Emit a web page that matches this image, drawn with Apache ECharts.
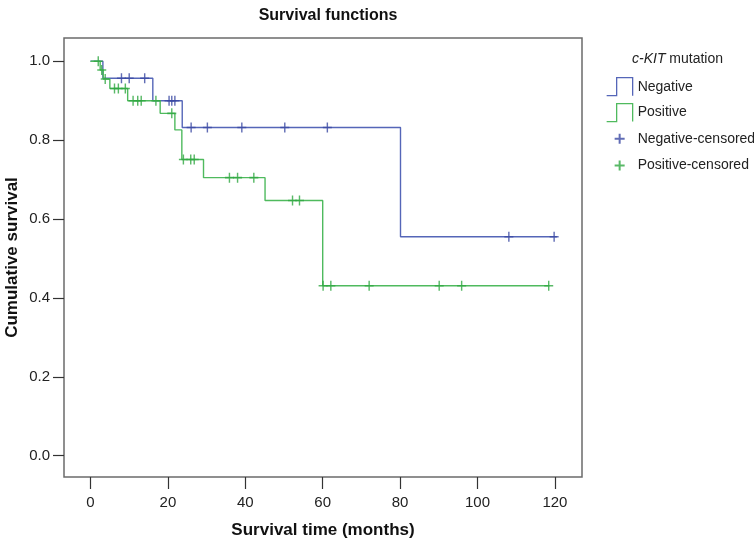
<!DOCTYPE html>
<html>
<head>
<meta charset="utf-8">
<script src="https://cdn.jsdelivr.net/npm/echarts@6/dist/echarts.min.js"></script>
<style>html,body{margin:0;padding:0;background:#fff}#c{width:754px;height:543px}</style>
</head>
<body>
<div id="c"></div>
<script>
// Kaplan-Meier step points (time in months, cumulative survival)
const negTimes = [0, 3.2, 16.1, 23.7, 80.1, 120.5];
const negSurv  = [1.0, 0.957, 0.900, 0.832, 0.555, 0.555];
const posTimes = [0, 2.5, 3.3, 5.0, 9.6, 18.0, 21.8, 23.6, 29.2, 45.1, 60.0, 118.6];
const posSurv  = [1.0, 0.978, 0.955, 0.931, 0.900, 0.868, 0.826, 0.751, 0.705, 0.647, 0.431, 0.431];
// Censoring times
const negCensor = [8, 10, 14, 20.3, 21, 21.8, 26, 30.2, 39.1, 50.2, 61.2, 108.1, 119.8];
const posCensor = [2.0, 2.9, 3.8, 6.2, 7.2, 9.0, 11, 12.2, 13.1, 16.9, 21.0, 24.0, 25.9, 26.8, 35.9, 38.0, 42.2, 52.2, 54.0, 60.1, 62.1, 72.0, 90.1, 95.9, 118.4];
const xTicks = [0, 20, 40, 60, 80, 100, 120];
const yTicks = [0, 0.2, 0.4, 0.6, 0.8, 1.0];
const seriesNames = ['Negative', 'Positive', 'Negative-censored', 'Positive-censored'];

const blueLine = '#5566b8', greenLine = '#4fba5e';
const blueMark = '#3949a3', greenMark = '#2fa841';

function stepValue(times, surv, t) {
  let v = surv[0];
  for (let i = 0; i < times.length; i++) { if (times[i] <= t) v = surv[i]; }
  return v;
}
const negLine = negTimes.map((t, i) => [t, negSurv[i]]);
const posLine = posTimes.map((t, i) => [t, posSurv[i]]);
const negPts = negCensor.map(t => [t, stepValue(negTimes, negSurv, t)]);
const posPts = posCensor.map(t => [t, stepValue(posTimes, posSurv, t)]);

const plusSym = 'path://M0,5L10,5M5,0L5,10';
const stepIcon = 'path://M0,18L10,18L10,0L26,0L26,18';
const plusIcon = 'path://M0,0M18,18M4,9L14,9M9,4L9,14';
const FONT = 'Liberation Sans, Arial, sans-serif';

const chart = echarts.init(document.getElementById('c'), null, {renderer: 'canvas'});
chart.setOption({
  animation: false,
  title: {
    text: 'Survival functions', left: 323, top: 3, textAlign: 'center',
    textStyle: {fontFamily: FONT, fontSize: 16, fontWeight: 'bold', color: '#111'}
  },
  grid: {left: 64, right: 172, top: 38, bottom: 66, containLabel: false, outerBoundsMode: 'none',
         show: true, borderColor: '#6b6b6b', borderWidth: 1.5, backgroundColor: '#fff'},
  xAxis: {
    type: 'value', min: -6.85, max: 127,
    name: 'Survival time (months)', nameLocation: 'middle', nameGap: 45, nameMoveOverlap: false,
    nameTextStyle: {fontFamily: FONT, fontSize: 17, fontWeight: 'bold', color: '#111'},
    axisLine: {show: false, onZero: false}, splitLine: {show: false},
    axisTick: {show: true, length: 12, customValues: xTicks, lineStyle: {color: '#333', width: 1.2}},
    axisLabel: {customValues: xTicks, margin: 18, fontFamily: FONT, fontSize: 15, color: '#222'}
  },
  yAxis: {
    type: 'value', min: -0.054, max: 1.059,
    name: 'Cumulative survival', nameLocation: 'middle', nameGap: 43, nameMoveOverlap: false,
    nameTextStyle: {fontFamily: FONT, fontSize: 17, fontWeight: 'bold', color: '#111'},
    axisLine: {show: false, onZero: false}, splitLine: {show: false},
    axisTick: {show: true, length: 11, customValues: yTicks, lineStyle: {color: '#333', width: 1.2}},
    axisLabel: {customValues: yTicks, margin: 14, formatter: v => v.toFixed(1), fontFamily: FONT, fontSize: 15, color: '#222'}
  },
  legend: {
    orient: 'vertical', left: 601, top: 72, itemWidth: 26, itemHeight: 18, itemGap: 6.6,
    textStyle: {fontFamily: FONT, fontSize: 14, color: '#222'},
    selectedMode: false,
    data: [
      {name: seriesNames[0], icon: stepIcon, itemStyle: {color: 'rgba(0,0,0,0)', borderColor: blueLine, borderWidth: 1.3}},
      {name: seriesNames[1], icon: stepIcon, itemStyle: {color: 'rgba(0,0,0,0)', borderColor: greenLine, borderWidth: 1.3}},
      {name: seriesNames[2], icon: plusIcon, itemStyle: {color: 'rgba(0,0,0,0)', borderColor: blueMark, borderWidth: 2}},
      {name: seriesNames[3], icon: plusIcon, itemStyle: {color: 'rgba(0,0,0,0)', borderColor: greenMark, borderWidth: 2}}
    ]
  },
  graphic: [{
    type: 'text', left: 632, top: 52,
    style: {
      text: '{i|c-KIT} mutation',
      font: '14px "Liberation Sans", Arial, sans-serif', fill: '#222',
      rich: {i: {fontStyle: 'italic', fontSize: 14, fontFamily: FONT, color: '#222'}}
    }
  }],
  series: [
    {name: seriesNames[0], type: 'line', step: 'end', data: negLine, showSymbol: false, symbol: 'none', z: 2,
     lineStyle: {color: blueLine, width: 1.4}, itemStyle: {color: blueLine}},
    {name: seriesNames[1], type: 'line', step: 'end', data: posLine, showSymbol: false, symbol: 'none', z: 3,
     lineStyle: {color: greenLine, width: 1.4}, itemStyle: {color: greenLine}},
    {name: seriesNames[2], type: 'scatter', data: negPts, symbol: plusSym, symbolSize: [9, 10], z: 4,
     itemStyle: {color: 'rgba(0,0,0,0)', borderColor: blueMark, borderWidth: 1.5}},
    {name: seriesNames[3], type: 'scatter', data: posPts, symbol: plusSym, symbolSize: [9, 10], z: 5,
     itemStyle: {color: 'rgba(0,0,0,0)', borderColor: greenMark, borderWidth: 1.5}}
  ]
});
</script>
</body>
</html>
